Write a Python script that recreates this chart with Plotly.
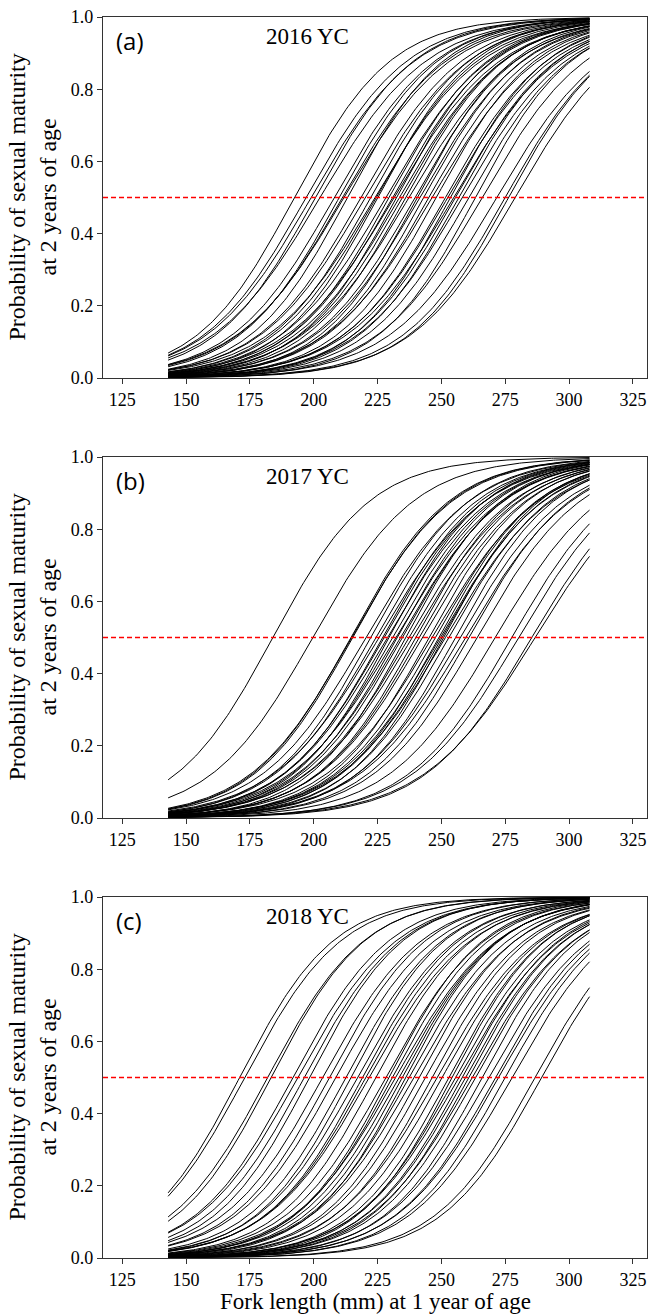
import numpy as np
import plotly.graph_objects as go

# Logistic maturity curves: L50 (fork length at p=0.5) and scale per curve
L50_2016 = [192.4, 197.0, 199.0, 200.6, 202.5, 208.0, 210.0, 211.3, 211.9, 213.2,
            218.4, 220.1, 222.3, 224.0, 224.5, 225.0, 228.2, 229.5, 230.8, 231.4,
            232.3, 233.6, 234.7, 236.0, 237.3, 239.6, 240.5, 241.5, 243.1, 245.1,
            246.4, 248.0, 251.6, 252.5, 253.5, 254.8, 255.5, 256.8, 258.1, 260.7,
            263.3, 265.9, 271.7, 275.0, 276.3, 278.9]
S_2016 = [19.0, 20.0, 20.5, 19.5, 21.0, 20.0, 19.5, 20.5, 21.0, 19.0,
          20.0, 20.5, 19.5, 21.0, 20.0, 19.0, 20.5, 19.5, 20.0, 21.0,
          19.0, 20.5, 20.0, 19.5, 21.0, 20.0, 19.0, 20.5, 19.5, 20.0,
          21.0, 19.5, 20.0, 20.5, 19.0, 21.0, 20.0, 19.5, 20.5, 20.0,
          19.0, 20.5, 21.0, 20.0, 19.5, 20.5]

L50_2017 = [184.0, 199.6, 214.5, 214.8, 215.2, 220.4, 222.3, 224.3, 225.6, 226.9,
            227.5, 228.8, 229.5, 230.8, 232.1, 232.7, 234.0, 234.7, 236.0, 237.3,
            238.6, 239.9, 241.2, 242.5, 245.1, 246.4, 247.7, 249.0, 249.6, 250.3,
            250.9, 251.6, 252.9, 255.5, 257.4, 259.4, 260.7, 263.9, 271.1, 277.6,
            280.2, 285.4, 286.7]
S_2017 = [19.2, 20.0, 19.5, 20.0, 19.5, 20.5, 19.5, 20.0, 21.0, 19.5,
          20.0, 20.5, 19.0, 20.0, 21.0, 19.5, 20.5, 20.0, 19.0, 20.5,
          21.0, 19.5, 20.0, 20.5, 19.5, 21.0, 20.0, 19.5, 20.5, 20.0,
          19.0, 21.0, 20.0, 19.5, 20.5, 21.0, 20.0, 20.5, 21.0, 20.5,
          21.0, 21.0, 22.0]

L50_2018 = [171.0, 173.0, 182.0, 183.3, 191.8, 193.7, 196.3, 198.3, 203.5, 206.1,
            208.7, 212.6, 214.5, 217.1, 219.1, 220.4, 221.7, 224.3, 228.2, 229.5,
            230.8, 232.1, 233.4, 234.7, 236.0, 237.3, 239.2, 241.2, 243.8, 246.4,
            248.3, 250.3, 252.9, 254.2, 255.5, 256.8, 258.1, 259.4, 260.7, 262.0,
            263.3, 265.9, 268.5, 271.1, 272.4, 275.0, 277.6, 286.7, 289.2]
S_2018 = [18.5, 19.0, 19.0, 18.5, 19.0, 19.5, 19.0, 18.5, 19.5, 19.0,
          19.5, 19.0, 18.5, 19.5, 19.0, 19.5, 20.0, 19.0, 19.5, 18.5,
          19.0, 20.0, 19.5, 19.0, 18.5, 19.5, 20.0, 19.0, 19.5, 19.0,
          20.0, 19.5, 19.0, 18.5, 19.5, 20.0, 19.0, 19.5, 19.0, 20.0,
          19.5, 19.0, 20.0, 19.5, 20.0, 19.5, 20.0, 19.5, 19.5]

PANELS = [("(a)", "2016 YC", L50_2016, S_2016),
          ("(b)", "2017 YC", L50_2017, S_2017),
          ("(c)", "2018 YC", L50_2018, S_2018)]

X_MIN, X_MAX = 143, 308
X_TICKS = [125, 150, 175, 200, 225, 250, 275, 300, 325]
Y_TICKS = [0.0, 0.2, 0.4, 0.6, 0.8, 1.0]
Y_TITLE = "Probability of sexual maturity<br>at 2 years of age"
X_TITLE = "Fork length (mm) at 1 year of age"

W, H = 650, 1314
ML, MR, MT, MB = 103, 3, 17, 56
plot_h = H - MT - MB
panel_h = 361
gap = (plot_h - 3 * panel_h) / 2

fig = go.Figure()
xs = np.linspace(X_MIN, X_MAX, 200)
serif = "Liberation Serif"

for i, (lab, yc, l50s, ss) in enumerate(PANELS):
    top = 1 - i * (panel_h + gap) / plot_h
    bot = top - panel_h / plot_h
    xa = "x" if i == 0 else f"x{i+1}"
    ya = "y" if i == 0 else f"y{i+1}"
    for l50, s in zip(l50s, ss):
        ys = 1.0 / (1.0 + np.exp(-(xs - l50) / s))
        fig.add_trace(go.Scatter(x=xs, y=ys, mode="lines",
                                 line=dict(color="black", width=1),
                                 showlegend=False, hoverinfo="skip",
                                 xaxis=xa, yaxis=ya))
    axis_common = dict(showline=True, mirror=True, linecolor="#333", linewidth=1.3,
                       ticks="outside", ticklen=5, tickcolor="#333", tickwidth=1.2,
                       showgrid=False, zeroline=False,
                       tickfont=dict(family=serif, size=18, color="black"))
    xkey = "xaxis" if i == 0 else f"xaxis{i+1}"
    ykey = "yaxis" if i == 0 else f"yaxis{i+1}"
    fig.update_layout(**{
        xkey: dict(axis_common, domain=[0, 1], range=[117.5, 330.5],
                   tickvals=X_TICKS, anchor=ya),
        ykey: dict(axis_common, domain=[bot, top], range=[0, 1],
                   tickvals=Y_TICKS, tickformat=".1f", anchor=xa),
    })
    fig.add_shape(type="line", xref=f"{xa} domain", yref=ya, x0=0, x1=1, y0=0.5, y1=0.5,
                  layer="above", opacity=1,
                  line=dict(color="#FF0000", width=1.3, dash="5px,3px"))
    fig.add_annotation(xref=f"{xa} domain", yref=f"{ya} domain", x=0.02, y=0.935,
                       text=lab, showarrow=False, xanchor="left", yanchor="middle",
                       font=dict(family="Open Sans", size=24, color="black"))
    fig.add_annotation(xref=f"{xa} domain", yref=f"{ya} domain", x=0.375, y=0.945,
                       text=yc, showarrow=False, xanchor="center", yanchor="middle",
                       font=dict(family=serif, size=23, color="black"))
    fig.add_annotation(xref="paper", yref="paper", x=(32 - ML) / (W - ML - MR),
                       y=(bot + top) / 2, text=Y_TITLE, textangle=-90, showarrow=False,
                       xanchor="center", yanchor="middle",
                       font=dict(family=serif, size=24, color="black"))

fig.add_annotation(xref="paper", yref="paper", x=(375 - ML) / (W - ML - MR),
                   y=-(1301 - (H - MB)) / plot_h, text=X_TITLE, showarrow=False,
                   xanchor="center", yanchor="middle",
                   font=dict(family=serif, size=23, color="black"))

fig.update_layout(width=W, height=H, margin=dict(l=ML, r=MR, t=MT, b=MB),
                  plot_bgcolor="white", paper_bgcolor="white")

fig.write_html("out.html")
